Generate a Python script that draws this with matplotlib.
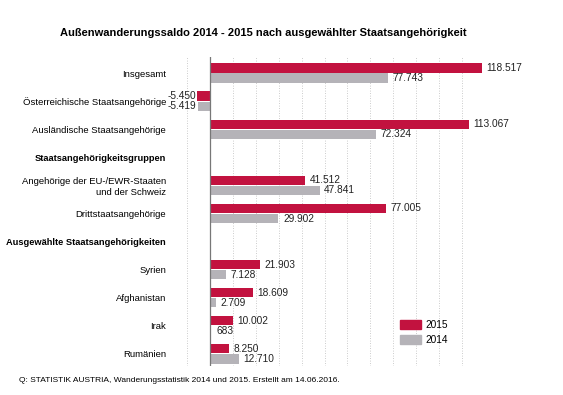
import matplotlib
matplotlib.use("Agg")
import matplotlib.pyplot as plt
from matplotlib.patches import Patch

plt.rcParams['font.family'] = ['Liberation Sans', 'DejaVu Sans']

categories = ["Insgesamt", "Österreichische Staatsangehörige", "Ausländische Staatsangehörige",
              "Staatsangehörigkeitsgruppen", "Angehörige der EU-/EWR-Staaten\nund der Schweiz",
              "Drittstaatsangehörige", "Ausgewählte Staatsangehörigkeiten",
              "Syrien", "Afghanistan", "Irak", "Rumänien"]
header_rows = [3, 6]
values_2015 = [118517, -5450, 113067, None, 41512, 77005, None, 21903, 18609, 10002, 8250]
values_2014 = [77743, -5419, 72324, None, 47841, 29902, None, 7128, 2709, 683, 12710]
series_names = ["2015", "2014"]

c2015 = "#C2123F"
c2014 = "#B5B3B8"

def fmt(v):
    s = f"{abs(v):,}".replace(",", ".")
    return ("-" if v < 0 else "") + s

fig = plt.figure(figsize=(5.63, 3.95), dpi=100)
ax = fig.add_axes([187/563, 1-366/395, (485-187)/563, (366-57)/395])

h = 0.33
off = 0.18
vfs = 7.3
for i, (a, b) in enumerate(zip(values_2015, values_2014)):
    if a is None:
        continue
    ax.barh(i - off, a, height=h, color=c2015, zorder=3)
    ax.barh(i + off, b, height=h, color=c2014, zorder=3)
    for v, y in ((a, i - off), (b, i + off)):
        if v < 0:
            ax.text(v - 700, y, fmt(v), ha='right', va='center', fontsize=vfs, color='#222222')
        else:
            ax.text(v + 2000, y, fmt(v), ha='left', va='center', fontsize=vfs, color='#222222')

ax.set_xlim(-10000, 120000)
ax.set_ylim(10.43, -0.57)
for gx in [-10000] + list(range(10000, 120000, 10000)):
    ax.axvline(gx, color='#BBBBBB', lw=0.6, ls=(0, (1, 2)), zorder=1)
ax.axvline(0, color='#777777', lw=0.9, zorder=4)

ax.set_yticks(range(len(categories)))
ax.set_yticklabels(categories, fontsize=6.8)
for i, t in enumerate(ax.get_yticklabels()):
    t.set_ha('right')
    if i in header_rows:
        t.set_fontweight('bold')
        t.set_fontsize(6.65)
ax.tick_params(axis='y', length=0, pad=15)
ax.set_xticks([])
for s in ax.spines.values():
    s.set_visible(False)

handles = [Patch(color=c2015), Patch(color=c2014)]
ax.legend(handles, series_names, loc='upper left', bbox_to_anchor=((396-187)/298, (366-316)/309),
          frameon=False, fontsize=vfs, handlelength=2.05, handleheight=1.0, labelspacing=0.45,
          handletextpad=0.5, borderaxespad=0)

fig.text(263/563, 1-33/395, "Außenwanderungssaldo 2014 - 2015 nach ausgewählter Staatsangehörigkeit",
         ha='center', va='center', fontsize=8.0, fontweight='bold')
fig.text(19/563, 1-381/395, "Q: STATISTIK AUSTRIA, Wanderungsstatistik 2014 und 2015. Erstellt am 14.06.2016.",
         ha='left', va='center', fontsize=6.0)

fig.savefig("out.png", dpi=100)
